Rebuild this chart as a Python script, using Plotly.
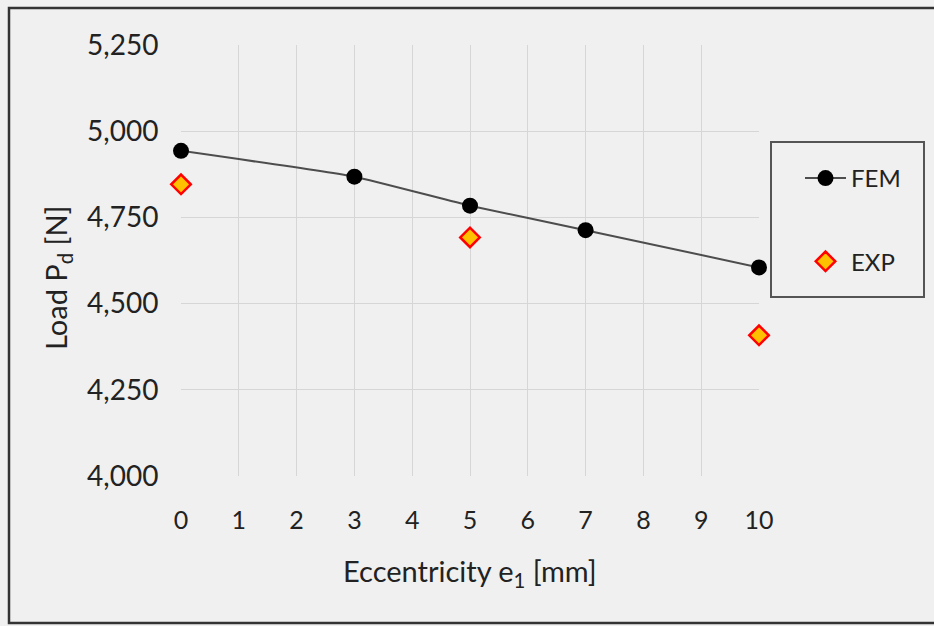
import plotly.graph_objects as go

fem_x = [0, 3, 5, 7, 10]
fem_y = [4943, 4868, 4784, 4713, 4605]
exp_x = [0, 5, 10]
exp_y = [4846, 4692, 4408]
x_ticks = list(range(0, 11))
y_ticks = [4000, 4250, 4500, 4750, 5000, 5250]
y_tick_text = ["4,000", "4,250", "4,500", "4,750", "5,000", "5,250"]

W, H = 934, 626
L, R, T, B = 181, 759, 45, 476

def px(x):
    return (x - L) / (R - L)

def py(y):
    return (B - y) / (B - T)

FONT = "Lato"
TXT = "#222222"
BG = "#f0f0f0"

fig = go.Figure()
fig.add_trace(go.Scatter(
    x=fem_x, y=fem_y, name="FEM", mode="lines+markers",
    line=dict(color="#4d4d4d", width=2, shape="spline", smoothing=0.4),
    marker=dict(color="black", size=16, symbol="circle"),
    legendgroup="a", cliponaxis=False,
))
fig.add_trace(go.Scatter(
    x=exp_x, y=exp_y, name="EXP", mode="markers",
    marker=dict(color="#ffc000", size=15, symbol="diamond",
                line=dict(color="#ff0000", width=2.5)),
    legendgroup="b", cliponaxis=False,
))

fig.update_layout(
    width=W, height=H,
    margin=dict(l=L, r=W - R, t=T, b=H - B),
    paper_bgcolor=BG, plot_bgcolor=BG,
    font=dict(family=FONT, color=TXT),
    showlegend=True,
    legend=dict(
        x=px(800), y=py(156), xanchor="left", yanchor="top",
        bgcolor="rgba(0,0,0,0)", borderwidth=0,
        font=dict(size=24, family=FONT, color=TXT),
        tracegroupgap=49, itemwidth=41, traceorder="grouped",
    ),
    xaxis=dict(
        range=[0, 10], tickvals=x_ticks, showgrid=True, gridcolor="#d6d6d6",
        gridwidth=1, zeroline=False, showline=False,
        ticks="outside", ticklen=22, tickcolor="rgba(0,0,0,0)",
        tickfont=dict(size=25, family=FONT, color=TXT),
    ),
    yaxis=dict(
        range=[4000, 5250], tickvals=y_ticks, ticktext=y_tick_text,
        showgrid=True, gridcolor="#d6d6d6", gridwidth=1, zeroline=False,
        showline=False, ticks="outside", ticklen=16, tickcolor="rgba(0,0,0,0)",
        tickfont=dict(size=28, family=FONT, color=TXT),
    ),
    shapes=[
        dict(type="rect", xref="paper", yref="paper",
             x0=px(9), x1=px(945), y0=py(8), y1=py(623),
             line=dict(color="#333333", width=2.5), layer="below"),
        dict(type="rect", xref="paper", yref="paper",
             x0=px(771), x1=px(924), y0=py(142), y1=py(297),
             line=dict(color="#555555", width=2), layer="above"),
    ],
    annotations=[
        dict(text="Eccentricity e<sub>1</sub> [mm]", xref="paper", yref="paper",
             x=px(470), y=py(572), showarrow=False, xanchor="center", yanchor="middle",
             font=dict(size=29, family=FONT, color=TXT)),
        dict(text="Load P<sub>d</sub> [N]", xref="paper", yref="paper",
             x=px(57), y=py(278), showarrow=False, textangle=-90,
             xanchor="center", yanchor="middle",
             font=dict(size=29, family=FONT, color=TXT)),
    ],
)

fig.write_html("out.html")
